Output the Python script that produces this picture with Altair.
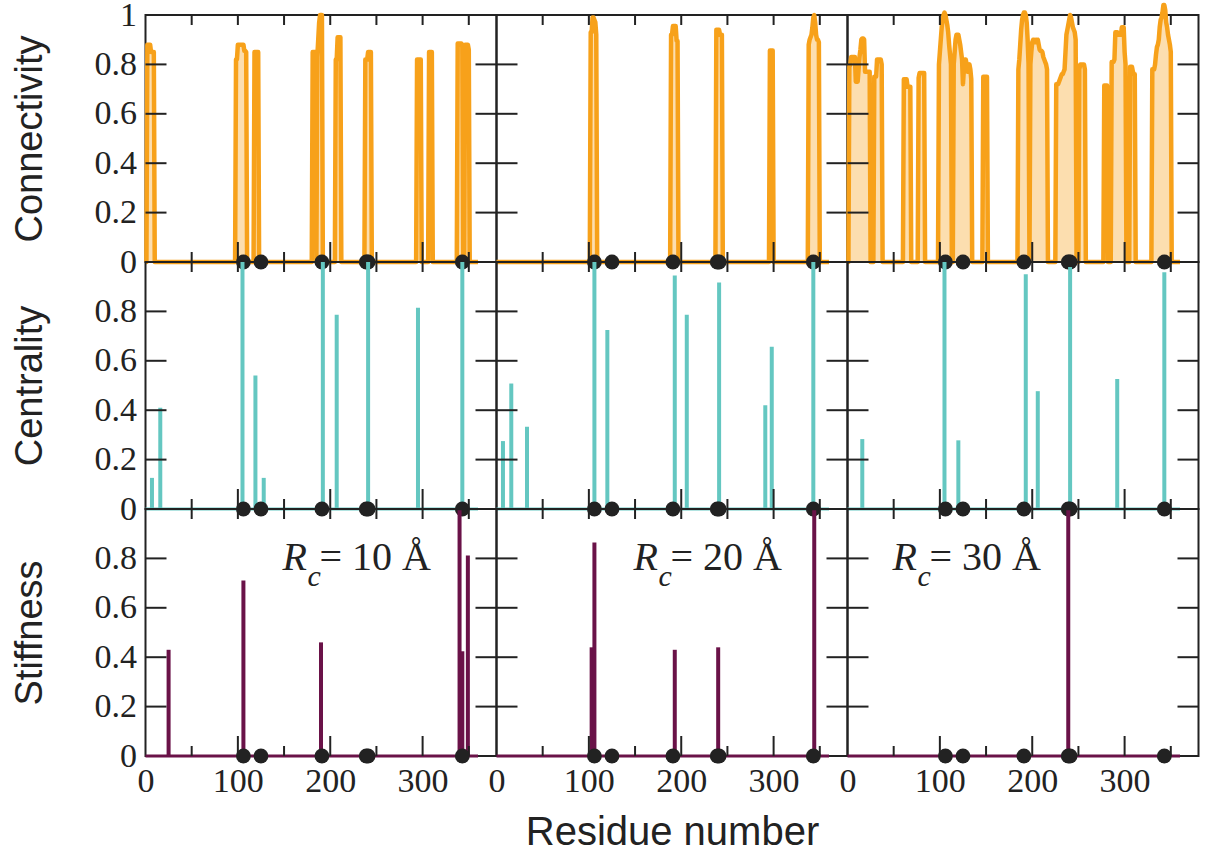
import altair as alt
import pandas as pd

# ---------------- layout constants ----------------
X_MAX = 380
RES_MAX = 360
W, H = 351, 247

SERIF = "Liberation Serif"
SANS = "Liberation Sans"
INK = "#222222"
ORANGE = "#f7a11a"
TEAL = "#64c7c1"
PURPLE = "#6a1248"

ROW_TITLES = ["Connectivity", "Centrality", "Stiffness"]
RC_TEXT = ["= 10 Å", "= 20 Å", "= 30 Å"]
Y_LABELS_TOP = [0, 0.2, 0.4, 0.6, 0.8, 1]
Y_LABELS = [0, 0.2, 0.4, 0.6, 0.8]
X_LABELS = [0, 100, 200, 300]
Y_TICKS = [0.2, 0.4, 0.6, 0.8]
X_MAJOR = [100, 200, 300]
X_MINOR = [50, 150, 250, 350]

# black dots (key residues)
DOT_RES = [106, 125, 191, 239, 241, 343]

# ---------------- connectivity (start residue, consecutive values) ----------------
CONN_10 = [
    (2, [0.88, 0.88, 0.88, 0.88, 0.85, 0.85, 0.85, 0.85]),
    (98, [0.82, 0.82, 0.88, 0.88, 0.88, 0.88, 0.88, 0.88, 0.88, 0.855, 0.855, 0.85]),
    (118, [0.85, 0.85, 0.85, 0.85, 0.85]),
    (181, [0.85, 0.85, 0.85, 0.85]),
    (186, [0.83, 0.9, 0.97, 1.0, 1.0, 1.0]),
    (206, [0.82, 0.82, 0.91, 0.91, 0.91, 0.91]),
    (238, [0.82, 0.82, 0.82, 0.85, 0.85, 0.85, 0.85]),
    (294, [0.82, 0.82, 0.82, 0.82, 0.82]),
    (307, [0.85, 0.85, 0.85, 0.85]),
    (338, [0.885, 0.885, 0.885, 0.885, 0.885, 0.87]),
    (346, [0.88, 0.88, 0.88, 0.88, 0.86]),
]
CONN_20 = [
    (102, [0.93, 0.93, 0.99, 0.99, 0.98, 0.97, 0.92]),
    (189, [0.92, 0.92, 0.955, 0.955, 0.955, 0.955, 0.895, 0.895]),
    (238, [0.94, 0.94, 0.94, 0.94, 0.92, 0.92, 0.92]),
    (296, [0.856, 0.856, 0.856, 0.856]),
    (338, [0.88, 0.9, 0.91, 0.92, 0.95, 0.99, 1.0, 0.97, 0.92, 0.9, 0.9, 0.89]),
]
CONN_30 = [
    (2, [0.79, 0.8, 0.83, 0.83, 0.83, 0.83, 0.83, 0.73, 0.73, 0.73, 0.78, 0.83,
         0.86, 0.9, 0.905, 0.905, 0.9, 0.77, 0.77, 0.77, 0.77, 0.77, 0.77]),
    (29, [0.75, 0.75, 0.75, 0.82, 0.82, 0.82, 0.82, 0.82, 0.8]),
    (61, [0.74, 0.74, 0.74, 0.74, 0.71, 0.71, 0.71, 0.71]),
    (77, [0.745, 0.765, 0.765, 0.765, 0.765, 0.765, 0.765]),
    (99, [0.8, 0.85, 0.9, 0.95, 0.98, 1.0, 1.01, 1.0, 0.98, 0.96, 0.93, 0.88, 0.84, 0.8]),
    (115, [0.8, 0.85, 0.9, 0.92, 0.92, 0.92, 0.9, 0.88, 0.85, 0.82, 0.72, 0.78,
           0.82, 0.82, 0.8, 0.77, 0.78, 0.8, 0.78, 0.74]),
    (147, [0.75, 0.75, 0.75, 0.75, 0.75]),
    (185, [0.78, 0.82, 0.88, 0.94, 0.98, 1.0, 1.01, 1.01, 1.0, 0.97, 0.9, 0.8]),
    (198, [0.8, 0.85, 0.89, 0.9, 0.9, 0.89, 0.9, 0.89, 0.9, 0.88, 0.86, 0.855,
           0.855, 0.85, 0.83, 0.82, 0.81, 0.8, 0.78]),
    (226, [0.72, 0.72, 0.72, 0.73, 0.74, 0.75, 0.76, 0.76, 0.77, 0.78, 0.85,
           0.92, 0.94, 0.96, 0.98, 1.0, 0.99, 0.97, 0.95, 0.94, 0.93, 0.9]),
    (251, [0.78, 0.8, 0.8, 0.8, 0.8, 0.8, 0.78]),
    (278, [0.715, 0.715, 0.715, 0.715]),
    (286, [0.81, 0.81, 0.81, 0.82, 0.93, 0.93, 0.93, 0.92, 0.92, 0.92, 0.92,
           0.95, 0.95, 0.95, 0.85, 0.8]),
    (306, [0.79, 0.79, 0.79, 0.77, 0.76, 0.76]),
    (330, [0.78, 0.78, 0.78, 0.8, 0.84, 0.87, 0.88, 0.9, 0.95, 0.98, 0.99, 1.01,
           1.04, 1.04, 1.02, 0.97, 0.95, 0.92, 0.9, 0.88, 0.85]),
]

# ---------------- centrality (impulses) ----------------
CENT_10_RES = [7, 16, 105, 119, 128, 192, 207, 241, 295, 343]
CENT_10_VAL = [0.126, 0.41, 1.0, 0.54, 0.126, 1.0, 0.786, 1.0, 0.815, 1.0]
CENT_20_RES = [7, 16, 33, 106, 120, 193, 206, 241, 291, 298, 343]
CENT_20_VAL = [0.275, 0.508, 0.333, 1.0, 0.725, 0.945, 0.786, 0.917, 0.42, 0.657, 1.0]
CENT_30_RES = [16, 105, 120, 193, 206, 241, 292, 343]
CENT_30_VAL = [0.283, 1.0, 0.278, 0.95, 0.477, 0.98, 0.526, 0.959]

# ---------------- stiffness (impulses) ----------------
STIFF_10_RES = [25, 106, 190, 340, 343, 349]
STIFF_10_VAL = [0.43, 0.711, 0.46, 0.995, 0.424, 0.812]
STIFF_20_RES = [103, 106, 193, 240, 344]
STIFF_20_VAL = [0.44, 0.864, 0.43, 0.44, 0.995]
STIFF_30_RES = [239]
STIFF_30_VAL = [0.995]

CONN = [CONN_10, CONN_20, CONN_30]
CENT = [(CENT_10_RES, CENT_10_VAL), (CENT_20_RES, CENT_20_VAL), (CENT_30_RES, CENT_30_VAL)]
STIFF = [(STIFF_10_RES, STIFF_10_VAL), (STIFF_20_RES, STIFF_20_VAL), (STIFF_30_RES, STIFF_30_VAL)]

# R_c label placement inside the stiffness panels (pixels from panel left)
RC_LEFT = [137, 137, 45]


def profile(segments):
    vals = [0.0] * (RES_MAX + 1)
    for start, seq in segments:
        for i, v in enumerate(seq):
            vals[start + i] = v
    return pd.DataFrame({"x": list(range(RES_MAX + 1)), "y": vals})


XSCALE = alt.Scale(domain=[0, X_MAX], nice=False, zero=False)
YSCALE = alt.Scale(domain=[0, 1], nice=False)


def x_enc(row, col):
    if row != 2:
        return alt.X("x:Q", scale=XSCALE, axis=None)
    axis = alt.Axis(
        values=X_LABELS, format="d", labelFont=SERIF, labelFontSize=34,
        labelColor=INK, labelPadding=8, labelFlush=False, labelOverlap=False,
        ticks=False, domain=False, grid=False,
        title="Residue number" if col == 1 else "",
        titleFont=SANS, titleFontSize=40, titleFontWeight="normal",
        titleColor=INK, titleX=W / 2, titleY=88, titleBaseline="alphabetic",
    )
    return alt.X("x:Q", scale=XSCALE, axis=axis)


def y_enc(row, col):
    if col != 0:
        return alt.Y("y:Q", scale=YSCALE, axis=None)
    axis = alt.Axis(
        values=Y_LABELS_TOP if row == 0 else Y_LABELS, format="~g",
        labelFont=SERIF, labelFontSize=34, labelColor=INK, labelPadding=9,
        labelOverlap=False, labelFlush=False,
        ticks=False, domain=False, grid=False,
        title=ROW_TITLES[row], titleFont=SANS, titleFontSize=38,
        titleFontWeight="normal", titleColor=INK, titleX=-104, titleY=H / 2,
        titleBaseline="alphabetic", titleAngle=270,
    )
    return alt.Y("y:Q", scale=YSCALE, axis=axis)


def panel(row, col):
    xe, ye = x_enc(row, col), y_enc(row, col)
    layers = []
    if row == 0:
        df = profile(CONN[col])
        layers.append(alt.Chart(df).mark_area(color=ORANGE, opacity=0.35, interpolate="linear")
                      .encode(x=xe, y=ye))
        layers.append(alt.Chart(df).mark_line(color=ORANGE, strokeWidth=4.5, interpolate="linear",
                                              strokeJoin="round")
                      .encode(x=xe, y=ye))
    else:
        res, val = (CENT if row == 1 else STIFF)[col]
        color = TEAL if row == 1 else PURPLE
        base = pd.DataFrame({"x": [0, RES_MAX], "y": [0, 0]})
        layers.append(alt.Chart(base).mark_line(color=color, strokeWidth=3).encode(x=xe, y=ye))
        imp = pd.DataFrame({"x": res, "y": val})
        layers.append(alt.Chart(imp).mark_rule(color=color, strokeWidth=4)
                      .encode(x=xe, y=ye, y2=alt.datum(0)))
    # inward ticks
    yt = pd.DataFrame({"y": Y_TICKS})
    layers.append(alt.Chart(yt).mark_rule(color=INK, strokeWidth=2)
                  .encode(y=ye, x=alt.value(0), x2=alt.value(21)))
    layers.append(alt.Chart(yt).mark_rule(color=INK, strokeWidth=2)
                  .encode(y=ye, x=alt.value(W - 21), x2=alt.value(W)))
    xall = pd.DataFrame({"x": sorted(X_MAJOR + X_MINOR)})
    layers.append(alt.Chart(xall).mark_rule(color=INK, strokeWidth=2)
                  .encode(x=xe, y=alt.value(0), y2=alt.value(10)))
    layers.append(alt.Chart(pd.DataFrame({"x": X_MINOR})).mark_rule(color=INK, strokeWidth=2)
                  .encode(x=xe, y=alt.value(H - 10), y2=alt.value(H)))
    layers.append(alt.Chart(pd.DataFrame({"x": X_MAJOR})).mark_rule(color=INK, strokeWidth=2)
                  .encode(x=xe, y=alt.value(H - 20), y2=alt.value(H)))
    # key residues
    dots = pd.DataFrame({"x": DOT_RES, "y": [0] * len(DOT_RES)})
    layers.append(alt.Chart(dots).mark_circle(color=INK, size=220, opacity=1)
                  .encode(x=xe, y=ye))
    if row == 2:
        one = pd.DataFrame({"k": [0]})
        left = RC_LEFT[col]
        layers.append(alt.Chart(one).mark_text(
            text="R", font=SERIF, fontSize=40, fontStyle="italic", color=INK,
            align="left", baseline="alphabetic").encode(x=alt.value(left), y=alt.value(61)))
        layers.append(alt.Chart(one).mark_text(
            text="c", font=SERIF, fontSize=30, fontStyle="italic", color=INK,
            align="left", baseline="alphabetic").encode(x=alt.value(left + 25), y=alt.value(77)))
        layers.append(alt.Chart(one).mark_text(
            text=RC_TEXT[col], font=SERIF, fontSize=40, color=INK,
            align="left", baseline="alphabetic").encode(x=alt.value(left + 37), y=alt.value(61)))
    return alt.layer(*layers).properties(width=W, height=H)


panels = [panel(r, c) for r in range(3) for c in range(3)]

chart = (
    alt.concat(*panels, columns=3, spacing=0, bounds="flush")
    .properties(padding={"left": 10.5, "top": -3, "right": 5, "bottom": 5}, background="white")
    .configure_view(stroke=INK, strokeWidth=2)
)

chart.save("out.html", embed_options={"renderer": "svg", "actions": False})
